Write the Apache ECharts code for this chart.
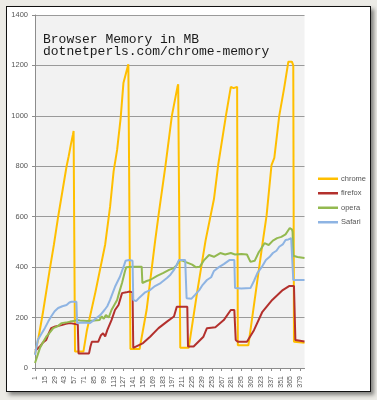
<!DOCTYPE html>
<html><head><meta charset="utf-8">
<script src="https://cdn.jsdelivr.net/npm/echarts@6/dist/echarts.min.js"></script>
<style>
html,body{margin:0;padding:0;background:#ecebe6;width:377px;height:400px;overflow:hidden;}
#frame{position:absolute;left:6px;top:6px;width:363px;height:384px;background:#fff;border:1.5px solid #111;box-shadow:3px 3px 4px rgba(0,0,0,0.45);}
#chart{position:absolute;left:0;top:0;width:377px;height:400px;}
</style></head><body>
<div id="frame"></div><div id="chart"></div>
<script>
// categories 1..385 (sample number)
const categoryCount = 385;
const categories = [];
for (let i = 1; i <= categoryCount; i++) categories.push(String(i));
const xTickLabels = ['1','15','29','43','57','71','85','99','113','127','141','155','169','183','197','211','225','239','253','267','281','295','309','323','337','351','365','379'];
const seriesNames = ['chrome','firefox','opera','Safari'];

// [sample, MB]
const chrome = [[1,55],[6,120],[12,215],[22,390],[28,490],[34,600],[40,700],[46,800],[49,840],[52,885],[55,925],[56,940],[57,935],[58,65],[70,65],[75,150],[87,300],[101,490],[108,640],[113,780],[118,865],[123,990],[127,1130],[134,1205],[136,1205],[137,75],[150,75],[160,230],[172,500],[177,605],[187,805],[196,1000],[204,1115],[205,1125],[207,1120],[208,80],[220,80],[232,300],[244,505],[256,670],[262,805],[273,1000],[280,1115],[284,1110],[289,1115],[290,90],[305,90],[315,290],[325,490],[331,605],[338,805],[342,833],[349,1000],[356,1110],[362,1215],[367,1215],[369,1200],[370,104],[385,100]];
const firefox = [[1,70],[4,75],[8,85],[12,100],[17,111],[21,140],[24,158],[30,165],[39,170],[45,175],[51,178],[57,175],[62,172],[63,58],[78,58],[80,85],[82,104],[91,104],[95,130],[98,138],[101,125],[104,150],[110,190],[115,230],[120,250],[125,297],[131,300],[136,303],[140,300],[141,80],[155,99],[165,124],[177,158],[189,184],[199,204],[203,243],[218,243],[219,85],[227,85],[241,124],[246,158],[258,162],[270,190],[280,230],[285,230],[287,111],[290,104],[303,104],[313,150],[325,223],[339,270],[354,309],[363,325],[370,325],[372,111],[385,105]];
const opera = [[1,20],[4,45],[8,79],[12,100],[17,124],[22,140],[27,158],[33,165],[39,178],[45,180],[51,184],[56,186],[60,190],[65,188],[75,186],[85,188],[93,190],[96,205],[99,195],[102,210],[106,200],[110,230],[114,250],[118,270],[121,300],[125,337],[129,382],[131,400],[140,402],[153,402],[154,337],[160,345],[165,349],[175,365],[184,377],[192,389],[198,395],[203,408],[207,428],[212,425],[216,420],[225,410],[230,400],[236,402],[242,428],[249,448],[256,441],[265,456],[272,450],[280,456],[286,450],[295,452],[303,450],[308,421],[314,425],[320,460],[322,468],[328,495],[334,488],[340,505],[346,515],[352,520],[358,530],[364,555],[367,550],[368,540],[369,445],[375,440],[385,436]];
const safari = [[1,52],[5,111],[10,135],[15,158],[20,185],[24,204],[29,225],[34,238],[40,245],[46,250],[50,260],[53,263],[60,263],[61,178],[70,180],[79,178],[85,190],[94,210],[100,230],[104,245],[108,270],[112,300],[115,322],[119,345],[122,362],[125,385],[128,408],[130,425],[135,428],[140,425],[141,270],[145,265],[150,280],[158,300],[165,309],[172,325],[180,337],[189,357],[194,370],[199,389],[203,410],[206,428],[215,428],[217,277],[224,275],[229,290],[235,309],[240,330],[246,349],[252,360],[256,385],[263,400],[270,412],[278,428],[285,428],[286,317],[295,315],[308,317],[313,345],[318,377],[324,400],[330,428],[335,440],[340,456],[345,465],[349,481],[354,490],[358,508],[362,510],[366,515],[368,515],[369,349],[385,349]];

const colors = ['#ffbf00','#b3302d','#93b950','#8eb4e3'];
const seriesData = [chrome, firefox, opera, safari];
const toIdx = arr => arr.map(p => [p[0] - 1, p[1]]);

const chart = echarts.init(document.getElementById('chart'), null, {renderer:'canvas'});
chart.setOption({
  backgroundColor: 'transparent',
  animation: false,
  color: colors,
  title: {
    text: 'Browser Memory in MB\ndotnetperls.com/chrome-memory',
    left: 43, top: 34, padding: 0,
    textStyle: {fontFamily:'Liberation Mono', fontSize:13, lineHeight:12, fontWeight:'normal', color:'#1a1a1a'}
  },
  legend: {
    orient:'vertical', left: 318, top: 174, padding: 0,
    icon: 'rect', itemWidth: 20, itemHeight: 2.5, itemGap: 5,
    data: seriesNames,
    textStyle: {fontFamily:'Liberation Sans', fontSize:7.5, color:'#555', padding:[0,0,0,-2], lineHeight:9.5}
  },
  grid: {left:35, right:72.5, top:15, bottom:32, show:true, backgroundColor:'#f2f2f2', borderWidth:0},
  xAxis: {
    type:'category', data: categories, boundaryGap:false,
    axisLine:{lineStyle:{color:'#8c8c8c', width:1}},
    axisTick:{show:true, length:3, interval:(i,v)=>xTickLabels.includes(v), lineStyle:{color:'#8c8c8c'}},
    axisLabel:{rotate:90, margin:8, fontSize:7, fontFamily:'Liberation Sans', color:'#555',
      interval:(i,v)=>xTickLabels.includes(v)},
    splitLine:{show:false}
  },
  yAxis: {
    type:'value', min:0, max:1400, interval:200,
    axisLine:{show:true, lineStyle:{color:'#8c8c8c', width:1}},
    axisTick:{show:true, length:3, lineStyle:{color:'#8c8c8c'}},
    axisLabel:{margin:7, fontSize:7.5, fontFamily:'Liberation Sans', color:'#555', formatter: v => String(v)},
    splitLine:{lineStyle:{color:'#9a9a9a', width:1}}
  },
  series: seriesNames.map((n, k) => ({
    name: n, type:'line', data: toIdx(seriesData[k]),
    symbol:'none', showSymbol:false, smooth:false,
    lineStyle:{width:2, color:colors[k]}, itemStyle:{color:colors[k]}
  }))
});
</script>
</body></html>
